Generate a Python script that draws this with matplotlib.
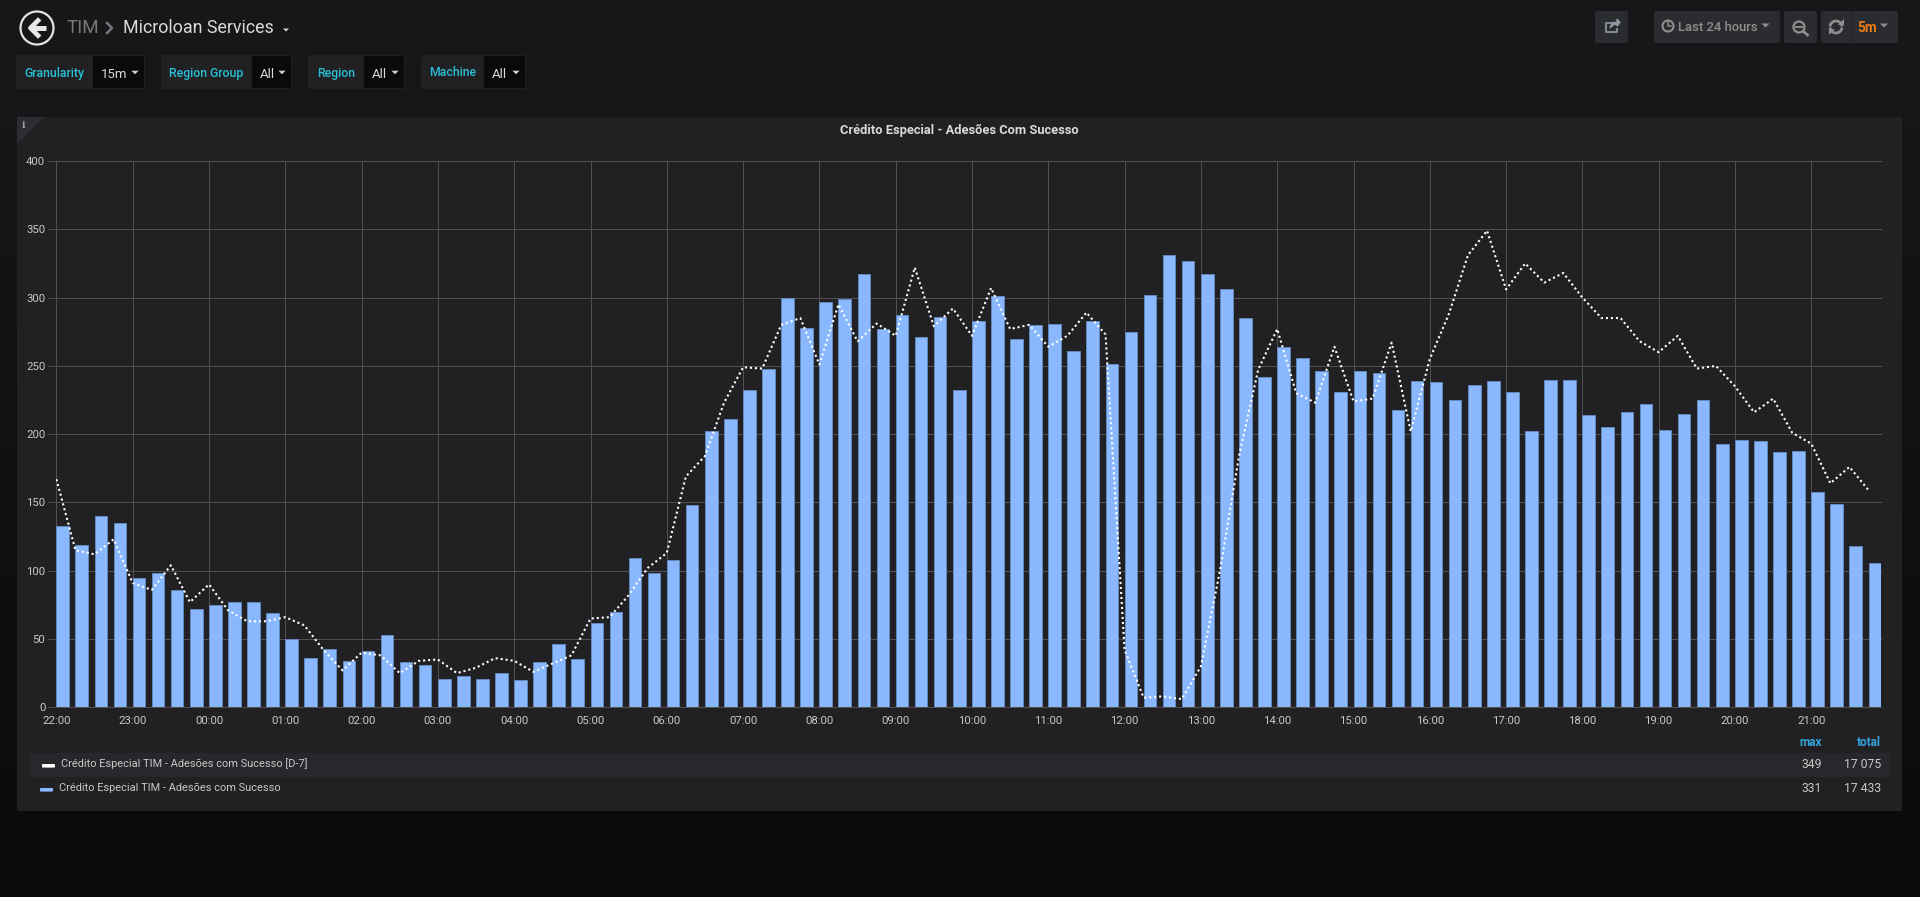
import numpy as np
import matplotlib
matplotlib.use("Agg")
import matplotlib.pyplot as plt
from matplotlib.patches import Circle, FancyBboxPatch, Polygon, Rectangle

plt.rcParams["font.family"] = ["Roboto", "DejaVu Sans"]

# Chart data, one value per 15 minutes starting at 22:00
adesoes = [
    133, 119, 140, 135, 95, 98, 86, 72, 75, 77, 77, 69, 50, 36, 43, 34,
    41, 53, 33, 31, 21, 23, 21, 25, 20, 33, 46, 35, 62, 70, 109, 98,
    108, 148, 202, 211, 232, 248, 300, 278, 297, 299, 317, 277, 287, 271, 286, 232,
    283, 301, 270, 280, 281, 261, 283, 251, 275, 302, 331, 327, 317, 306, 285, 242,
    264, 256, 246, 231, 246, 245, 218, 239, 238, 225, 236, 239, 231, 202, 240, 240,
    214, 205, 216, 222, 203, 215, 225, 193, 196, 195, 187, 188, 158, 149, 118, 106,
]
adesoes_d7 = [
    167, 115, 112, 123, 91, 86, 104, 77, 90, 71, 63, 63, 66, 60, 42, 27,
    40, 38, 25, 34, 35, 25, 29, 36, 34, 26, 32, 38, 65, 66, 82, 102,
    113, 169, 184, 223, 249, 248, 280, 285, 251, 295, 268, 281, 272, 322, 279, 292,
    272, 307, 277, 280, 264, 272, 289, 273, 42, 7, 8, 6, 30, 100, 184, 247,
    277, 230, 223, 264, 224, 226, 267, 202, 255, 288, 331, 349, 306, 325, 311, 318,
    300, 285, 285, 268, 260, 272, 248, 250, 235, 216, 226, 201, 193, 164, 176, 159,
]
hour_labels = ["22:00", "23:00", "00:00", "01:00", "02:00", "03:00", "04:00", "05:00",
               "06:00", "07:00", "08:00", "09:00", "10:00", "11:00", "12:00", "13:00",
               "14:00", "15:00", "16:00", "17:00", "18:00", "19:00", "20:00", "21:00"]
y_ticks = [0, 50, 100, 150, 200, 250, 300, 350, 400]
legend_names = ["Crédito Especial TIM - Adesões com Sucesso [D-7]",
                "Crédito Especial TIM - Adesões com Sucesso"]
legend_max = ["349", "331"]
legend_total = ["17 075", "17 433"]

W, H = 1920, 897
BLUE = "#8ab8ff"
CYAN = "#29bfd6"
GRID = "#505053"
TEXT = "#c8c8c8"

fig = plt.figure(figsize=(W / 100, H / 100), dpi=100)

# Page chrome, drawn in pixel coordinates
bg = fig.add_axes([0, 0, 1, 1], zorder=0)
bg.set_xlim(0, W)
bg.set_ylim(H, 0)
bg.axis("off")
gradient = np.linspace(0, 1, 256).reshape(-1, 1)
top = np.array([0x17, 0x18, 0x1a]) / 255
bottom = np.array([0x0a, 0x0a, 0x0d]) / 255
bg.imshow(top + gradient[..., None] * (bottom - top), extent=(0, W, H, 0), aspect="auto")


def box(x0, y0, x1, y1, color, radius=2, z=1):
    bg.add_patch(FancyBboxPatch((x0 + radius, y0 + radius), x1 - x0 - 2 * radius, y1 - y0 - 2 * radius,
                                boxstyle=f"round,pad={radius},rounding_size={radius}",
                                fc=color, ec="none", zorder=z))


def caret(x, y, size=4.5, color="#c8c8c8"):
    bg.add_patch(Polygon([(x - size, y - size / 2), (x + size, y - size / 2), (x, y + size / 2)],
                         fc=color, ec="none", zorder=3))


# Title row
bg.add_patch(Circle((37, 28), 16.5, fc="none", ec="#e3e3e3", lw=1.6, zorder=3))
bg.plot([46, 32], [28, 28], color="#e8e8e8", lw=3.6, solid_capstyle="butt", zorder=3)
bg.plot([38, 30.5, 38], [20.5, 28, 35.5], color="#e8e8e8", lw=3.4, zorder=3)
bg.text(66.5, 28, "TIM", color="#77787b", fontsize=13.6, va="center")
bg.plot([107, 112, 107], [23, 28, 33], color="#77787b", lw=1.8)
bg.text(123, 28, "Microloan Services", color="#d8d9da", fontsize=12.9, va="center")
caret(286, 30, 3, "#d8d9da")

# Template variables
var_boxes = [("Granularity", "15m", 16, 93, 145), ("Region Group", "All", 161, 252, 292),
             ("Region", "All", 308, 364, 405), ("Machine", "All", 421, 484, 526)]
for name, value, x0, x1, x2 in var_boxes:
    box(x0, 55, x2, 89, "#212124")
    bg.add_patch(Rectangle((x1, 56), x2 - x1 - 1, 32, fc="#0a0a0c", ec="none", zorder=2))
    bg.text((x0 + x1) / 2, 73, name, color=CYAN, fontsize=8.8, fontweight="medium",
            ha="center", va="center", zorder=3)
    bg.text(x1 + 8, 74, value, color="#d8d9da", fontsize=9.5, va="center", zorder=3)
    caret(x2 - 10, 72.5, 3.6, "#d0d0d0")

# Top right buttons
BTN = "#2b2c2f"
GREY = "#8e8e8e"
box(1595, 11, 1628, 43, BTN)
box(1654, 11, 1780, 43, BTN)
box(1784, 11, 1817, 43, BTN)
box(1821, 11, 1898, 43, BTN)
bg.plot([1851, 1851], [11, 43], color="#232427", lw=1, zorder=2)
# share icon
bg.plot([1617, 1606, 1606, 1617, 1617], [23, 23, 32, 32, 29], color="#7e8792", lw=1.5, zorder=3)
bg.add_patch(Polygon([(1610, 28), (1612, 23), (1617, 22), (1617, 19), (1620, 22.5), (1617, 26), (1617, 24), (1613, 25)],
                     fc="#8e96a0", ec="#8e96a0", zorder=3))
# clock icon
bg.add_patch(Circle((1668, 26), 5.5, fc="none", ec=GREY, lw=1.5, zorder=3))
bg.plot([1668, 1668, 1671], [22.5, 26.5, 26.5], color=GREY, lw=1.1, zorder=3)
bg.text(1678, 27.5, "Last 24 hours", color=GREY, fontsize=9.4, fontweight="medium", va="center", zorder=3)
caret(1765.5, 25.5, 4, GREY)
# zoom out icon
bg.add_patch(Circle((1799, 27), 5.5, fc="none", ec=GREY, lw=1.6, zorder=3))
bg.plot([1796, 1802], [27, 27], color=GREY, lw=1.4, zorder=3)
bg.plot([1803.5, 1807.5], [31.5, 35], color=GREY, lw=2, zorder=3)
# refresh icon
theta = np.linspace(0.3, 2.8, 20)
bg.plot(1836 + 6 * np.cos(theta), 27 - 6 * np.sin(theta), color=GREY, lw=2, zorder=3)
bg.plot(1836 - 6 * np.cos(theta), 27 + 6 * np.sin(theta), color=GREY, lw=2, zorder=3)
bg.add_patch(Polygon([(1844, 19), (1844, 25), (1838, 25)], fc=GREY, ec="none", zorder=3))
bg.add_patch(Polygon([(1829, 35), (1829, 29), (1835, 29)], fc=GREY, ec="none", zorder=3))
bg.text(1857, 27.5, "5m", color="#eb7b18", fontsize=9.8, fontweight="bold", va="center", zorder=3)
caret(1884, 25.5, 4, GREY)

# Panel
box(17, 117, 1902, 811, "#212124")
bg.add_patch(Polygon([(17, 117), (44, 117), (17, 144)], fc="#2c2d30", ec="none", zorder=2))
bg.text(24, 125, "i", color="#a0a0a0", fontsize=7, fontweight="bold", family="DejaVu Serif",
        ha="center", va="center", zorder=3)
bg.text(959, 130.5, "Crédito Especial - Adesões Com Sucesso", color="#d8d9da", fontsize=9.3,
        fontweight="bold", ha="center", va="center", zorder=3)

# Legend table
bg.add_patch(Rectangle((30, 753), 1860, 24, fc="#27282b", ec="none", zorder=2))
bg.text(1822, 742.5, "max", color="#33a2d8", fontsize=8.6, fontweight="bold", ha="right", va="center", zorder=3)
bg.text(1881, 742.5, "total", color="#33a2d8", fontsize=8.6, fontweight="bold", ha="right", va="center", zorder=3)
legend_x = [42, 40]
legend_y = [765, 789]
legend_colors = ["#ffffff", BLUE]
for i in range(2):
    bg.add_patch(FancyBboxPatch((legend_x[i] + 1, legend_y[i]), 11, 1.6, boxstyle="round,pad=1,rounding_size=1",
                                fc=legend_colors[i], ec="none", zorder=3))
    bg.text(legend_x[i] + 19, legend_y[i] - 1, legend_names[i], color=TEXT, fontsize=7.95, va="center", zorder=3)
    bg.text(1822, legend_y[i] - 1, legend_max[i], color=TEXT, fontsize=8.7, ha="right", va="center", zorder=3)
    bg.text(1881, legend_y[i] - 1, legend_total[i], color=TEXT, fontsize=8.7, ha="right", va="center", zorder=3)

# Graph
PX_PER_HOUR = 76.3
left, right, plot_top, plot_bottom = 56.4, 1881.0, 161.0, 707.3
ax = fig.add_axes([left / W, 1 - plot_bottom / H, (right - left) / W, (plot_bottom - plot_top) / H], zorder=1)
ax.patch.set_alpha(0)
hours = np.arange(len(adesoes)) * 0.25
ax.bar(hours, adesoes, width=12.6 / PX_PER_HOUR, align="edge", color=BLUE, edgecolor="#6487bd",
       linewidth=0.7, zorder=2)
ax.plot(hours, adesoes_d7, color="white", lw=1.5, linestyle=(0, (1, 1.4)), zorder=3)
ax.set_xlim(0, (right - left) / PX_PER_HOUR)
ax.set_ylim(0, 400)
ax.set_xticks(np.arange(len(hour_labels)), hour_labels)
ax.set_yticks(y_ticks)
ax.grid(True, color=GRID, lw=0.75, zorder=1)
ax.set_axisbelow(True)
ax.tick_params(axis="x", length=0, pad=6.5, labelsize=8.2, labelcolor=TEXT)
ax.tick_params(axis="y", length=6, width=0.75, color=GRID, pad=2, labelsize=8.2, labelcolor=TEXT)
for side in ax.spines:
    ax.spines[side].set_visible(False)
for line in ax.get_xgridlines() + ax.get_ygridlines():
    line.set_clip_on(False)

fig.savefig("out.png", dpi=100, facecolor="#161719")
